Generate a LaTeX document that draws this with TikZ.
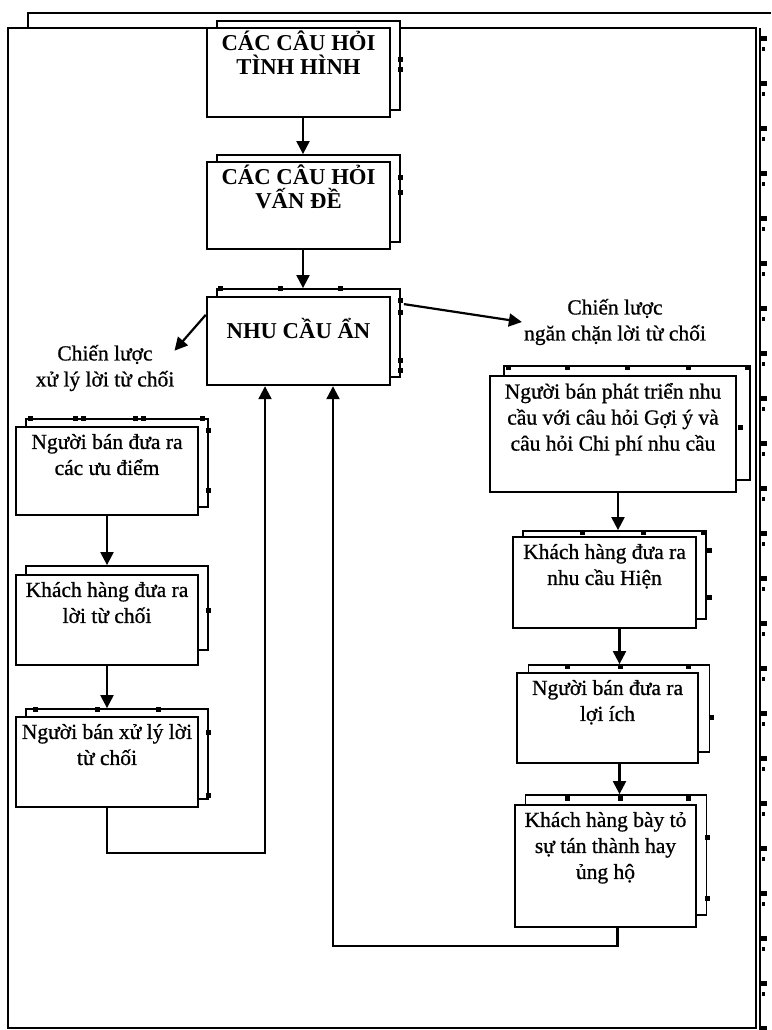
\documentclass[tikz,border=0pt]{standalone}
\usepackage{fontspec}
\setmainfont{Liberation Serif}
\usetikzlibrary{arrows.meta,calc}
\begin{document}
\begin{tikzpicture}[x=1pt,y=-1pt,
 fb/.style={draw, fill=white, line width=2.4pt, inner sep=0pt},
 bb/.style={draw, fill=white, line width=1.8pt, inner sep=0pt},
 tb/.style={font=\fontsize{22.7}{24}\selectfont\bfseries, align=center, inner sep=0pt},
 tr/.style={font=\fontsize{21.5}{26}\selectfont\addfontfeature{FakeBold=0.8}, align=center, inner sep=0pt},
 arr/.style={line width=2.2pt, -{Triangle[length=13pt,width=13pt]}},
 frm/.style={line width=2.2pt}]
\useasboundingbox (0,0) rectangle (771,1030);
% outer frames
\draw[frm] (28,28) -- (28,13) -- (771,13);
\draw[frm] (760,28) -- (760,1030);
\draw[frm] (8,28) rectangle (756,1028);
\foreach \y in {36,81,...,1026} {\fill (760,\y) rectangle (767,\y+5); \fill (762,\y+11) rectangle (765,\y+15);}
% top column
\node[bb, minimum width=183pt, minimum height=89pt] (b1s) at (308.5,65.5) {};
\node[fb, minimum width=183pt, minimum height=89pt] (b1) at (298.5,72.5) {};
\node[tb, anchor=north] (t1) at ($(b1.north)+(0,4)$) {CÁC CÂU HỎI\\TÌNH HÌNH};
\node[bb, minimum width=183pt, minimum height=87pt] (b2s) at (308.5,198.5) {};
\node[fb, minimum width=183pt, minimum height=87pt] (b2) at (298.5,205.5) {};
\node[tb, anchor=north] (t2) at ($(b2.north)+(0,4)$) {CÁC CÂU HỎI\\VẤN ĐỀ};
\node[bb, minimum width=183pt, minimum height=88pt] (b3s) at (308.5,333) {};
\node[fb, minimum width=183pt, minimum height=88pt] (b3) at (298.5,341) {};
\node[tb, anchor=base] (t3) at (298.5,338) {NHU CẦU ẨN};
% left column
\node[bb, minimum width=182pt, minimum height=88pt] (b4s) at (117,463) {};
\node[fb, minimum width=182pt, minimum height=88pt] (b4) at (107,471) {};
\node[tr, anchor=north] (t4) at ($(b4.north)+(0,8)$) {Người bán đưa ra\\các ưu điểm};
\node[bb, minimum width=182pt, minimum height=84pt] (b5s) at (117,608) {};
\node[fb, minimum width=182pt, minimum height=90pt] (b5) at (107,620) {};
\node[tr, anchor=north] (t5) at ($(b5.north)+(0,8)$) {Khách hàng đưa ra\\lời từ chối};
\node[bb, minimum width=182pt, minimum height=90pt] (b6s) at (117,754) {};
\node[fb, minimum width=182pt, minimum height=90pt] (b6) at (107,762) {};
\node[tr, anchor=north] (t6) at ($(b6.north)+(0,8)$) {Người bán xử lý lời\\từ chối};
% right column
\node[bb, minimum width=246pt, minimum height=114pt] (b7s) at (627,423) {};
\node[fb, minimum width=246pt, minimum height=116pt] (b7) at (613,434) {};
\node[tr, anchor=north] (t7) at ($(b7.north)+(0,8)$) {Người bán phát triển nhu\\cầu với câu hỏi Gợi ý và\\câu hỏi Chi phí nhu cầu};
\node[bb, minimum width=183pt, minimum height=88pt] (b8s) at (614.5,575) {};
\node[fb, minimum width=183pt, minimum height=91pt] (b8) at (604.5,582.5) {};
\node[tr, anchor=north] (t8) at ($(b8.north)+(0,8)$) {Khách hàng đưa ra\\nhu cầu Hiện};
\node[bb, minimum width=181pt, minimum height=87pt] (b9s) at (619,708.5) {};
\node[fb, minimum width=181pt, minimum height=90pt] (b9) at (607.5,718) {};
\node[tr, anchor=north] (t9) at ($(b9.north)+(0,8)$) {Người bán đưa ra\\lợi ích};
\node[bb, minimum width=181pt, minimum height=120pt] (b10s) at (616,855) {};
\node[fb, minimum width=181pt, minimum height=122pt] (b10) at (605.5,866) {};
\node[tr, anchor=north] (t10) at ($(b10.north)+(0,8)$) {Khách hàng bày tỏ\\sự tán thành hay\\ủng hộ};
% labels
\node[tr] (l1) at (105,368) {Chiến lược\\xử lý lời từ chối};
\node[tr] (l2) at (615,322) {Chiến lược\\ngăn chặn lời từ chối};
% handle marks on the shadow frames
\foreach \x/\y in {400/60,400/70,400/177,400/192,
  220/288,280/288,340/288,400/300,400/312,400/360,400/370,
  30/418,75/418,83/418,135/418,143/418,202/418,208/430,208/490,
  208/610,35/709,97/709,158/709,208/732,208/795,
  508/367,567/367,627/367,688/367,747/367,740/427,
  582/532,643/532,703/532,709/550,709/597,
  567/666,620/666,688/666,711/717,
  567/798,620/798,688/798,707/837,707/898}
  {\fill (\x-2.5,\y-2.5) rectangle (\x+2.5,\y+2.5);}
% connectors
\draw[arr] ([xshift=4.5pt]b1.south) -- ([xshift=4.5pt]b1.south |- b2s.north);
\draw[arr] ([xshift=4.5pt]b2.south) -- ([xshift=4.5pt]b2.south |- b3s.north);
\draw[arr] ([yshift=-19pt]b3.north west) -- ([yshift=-6pt]l1.north east);
\draw[arr] ([xshift=3pt,yshift=-16pt]b3s.north east) -- ([xshift=-2pt]l2.west);
\draw[arr] (b4.south) -- (b4.south |- b5s.north);
\draw[arr] (b5.south) -- (b5.south |- b6s.north);
\draw[arr] ([xshift=5pt]b7.south) -- ([xshift=5pt]b7.south |- b8s.north);
\draw[arr] ([xshift=15pt]b8.south) -- ([xshift=15pt]b8.south |- b9s.north);
\draw[arr] ([xshift=12pt]b9.south) -- ([xshift=12pt]b9.south |- b10s.north);
\draw[arr] (b6.south) -- ++(0,45) -| ([xshift=-33.5pt]b3.south);
\draw[arr] ([xshift=12pt]b10.south) -- ++(0,18) -| ([xshift=34.5pt]b3.south);
\end{tikzpicture}
\end{document}
